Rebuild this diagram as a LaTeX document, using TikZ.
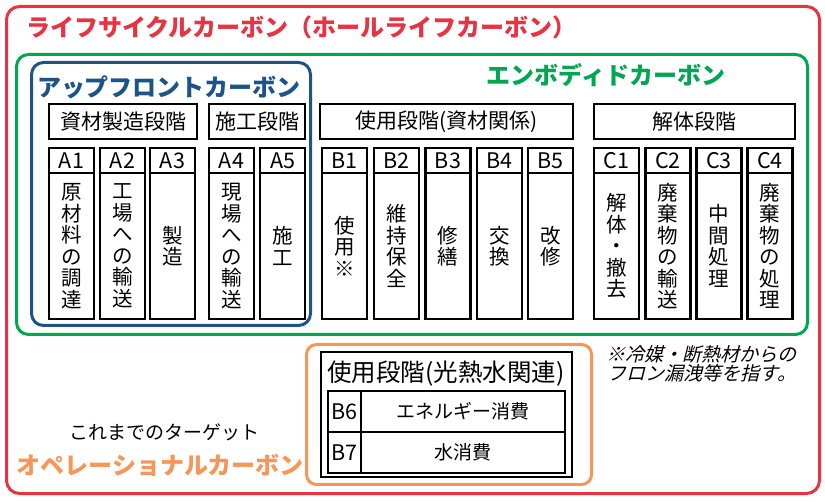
\documentclass[tikz,border=0pt]{standalone}
\usepackage{fontspec}
\setmainfont{Noto Sans CJK JP}
\newfontfamily\notefont{Noto Sans CJK JP}[FakeSlant=0.25]
\definecolor{lcred}{RGB}{233,50,66}
\definecolor{ecgreen}{RGB}{0,166,81}
\definecolor{upblue}{RGB}{28,84,136}
\definecolor{oporange}{RGB}{247,150,89}
\tikzset{
  frame/.style={line width=3pt, rounded corners=13pt},
  stagebox/.style={draw, line width=2.3pt, minimum height=35pt, inner sep=0pt, font=\fontsize{21}{21}\selectfont},
  colhead/.style={draw, line width=2.3pt, minimum width=45pt, minimum height=25pt, inner sep=0pt, font=\fontsize{21.5}{21.5}\selectfont},
  colbody/.style={draw, line width=2.3pt, minimum width=45pt, minimum height=146pt, inner sep=0pt, align=center, font=\fontsize{20.5}{21.5}\selectfont},
  rowbox/.style={draw, line width=2.3pt, minimum height=41pt, inner sep=0pt, font=\fontsize{19}{19}\selectfont},
  bigtitle/.style={font=\fontsize{24}{24}\selectfont\bfseries, inner sep=0pt},
}
\newcommand\mkcol[4]{%
  \node[colhead] (#1h) at (#2,160.5) {#3};
  \node[colbody] (#1b) at (#2,246) {#4};
}
\begin{document}
\begin{tikzpicture}[x=1pt,y=-1pt]
\useasboundingbox (0,0) rectangle (825,502);
% frames
\draw[frame, lcred] (6.5,6.5) rectangle (819.5,493.5);
\draw[frame, ecgreen, rounded corners=12pt] (16.5,54.5) rectangle (807.5,334.5);
\draw[frame, upblue, rounded corners=12pt] (31.5,62.5) rectangle (310.5,325.5);
\draw[frame, oporange, rounded corners=10pt] (306.5,344.5) rectangle (591.5,484.5);
% titles
\node[bigtitle, text=lcred, anchor=west] (lctitle) at (26,27) {ライフサイクルカーボン（ホールライフカーボン）};
\node[bigtitle, text=ecgreen] (ectitle) at (606,75) {エンボディドカーボン};
\node[bigtitle, text=upblue] (uptitle) at (169,87) {アップフロントカーボン};
% stage headers
\node[stagebox, minimum width=148pt] (st1) at (123,121.5) {資材製造段階};
\node[stagebox, minimum width=96pt] (st2) at (257,121.5) {施工段階};
\node[stagebox, minimum width=253pt] (st3) at (446.5,121.5) {使用段階(資材関係)};
\node[stagebox, minimum width=201pt] (st4) at (694.5,121.5) {解体段階};
% columns
\mkcol{A1}{71.5}{A1}{原\\材\\料\\の\\調\\達}
\mkcol{A2}{122.5}{A2}{工\\場\\へ\\の\\輸\\送}
\mkcol{A3}{172.5}{A3}{製\\造}
\mkcol{A4}{231.5}{A4}{現\\場\\へ\\の\\輸\\送}
\mkcol{A5}{282.5}{A5}{施\\工}
\mkcol{B1}{344.5}{B1}{使\\用\\※}
\mkcol{B2}{396.5}{B2}{維\\持\\保\\全}
\mkcol{B3}{448}{B3}{修\\繕}
\mkcol{B4}{499.5}{B4}{交\\換}
\mkcol{B5}{550.5}{B5}{改\\修}
\mkcol{C1}{616.5}{C1}{\fontsize{20.5}{23}\selectfont 解\\体\\・\\撤\\去}
\mkcol{C2}{668}{C2}{廃\\棄\\物\\の\\輸\\送}
\mkcol{C3}{719}{C3}{中\\間\\処\\理}
\mkcol{C4}{770}{C4}{廃\\棄\\物\\の\\処\\理}
% note
\node[font=\notefont\fontsize{19}{18.5}\selectfont, align=right, inner sep=0pt] (note) at (701,364) {※冷媒・断熱材からの\\フロン漏洩等を指す。};
% operational box
\draw[line width=2.3pt] (321,352) rectangle (572,477);
\node[font=\fontsize{24.5}{24.5}\selectfont, inner sep=0pt] (optitle) at (446,374) {使用段階(光熱水関連)};
\node[rowbox, minimum width=33pt, font=\fontsize{21.5}{21.5}\selectfont] (b6l) at (344.5,411.5) {B6};
\node[rowbox, minimum width=204pt] (b6t) at (463,411.5) {エネルギー消費};
\node[rowbox, minimum width=33pt, font=\fontsize{21.5}{21.5}\selectfont] (b7l) at (344.5,452.5) {B7};
\node[rowbox, minimum width=204pt] (b7t) at (463,452.5) {水消費};
% bottom-left texts
\node[font=\fontsize{19}{19}\selectfont, inner sep=0pt] (target) at (164.5,432) {これまでのターゲット};
\node[bigtitle, text=oporange] (optext) at (160,465) {オペレーショナルカーボン};
\end{tikzpicture}
\end{document}
